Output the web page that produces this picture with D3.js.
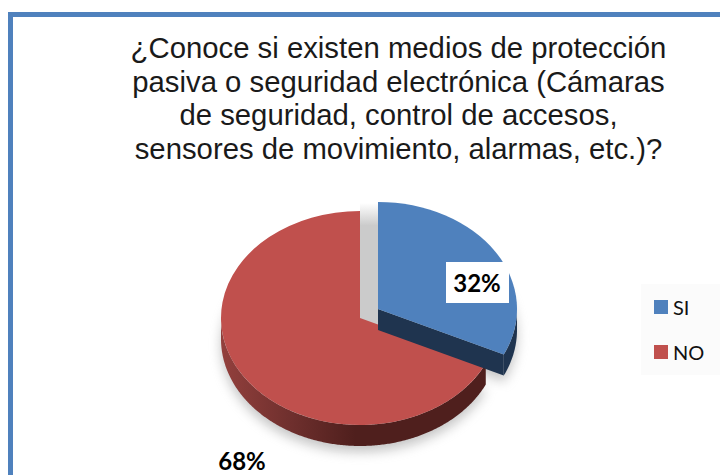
<!DOCTYPE html>
<html><head><meta charset="utf-8">
<script src="https://cdnjs.cloudflare.com/ajax/libs/d3/7.8.5/d3.min.js"></script>
<style>html,body{margin:0;padding:0;background:#fff}svg{display:block}</style>
</head><body><svg id="c" width="720" height="475"></svg>
<script>
const categories = ["SI", "NO"];
const values = [32, 68];
const valueLabels = ["32%", "68%"];
const titleLines = ["¿Conoce si existen medios de protección", "pasiva o seguridad electrónica (Cámaras", "de seguridad, control de accesos,", "sensores de movimiento, alarmas, etc.)?"];
const colors = ["#4f81bd", "#c0504d"];

const svg = d3.select("#c");
const defs = svg.append("defs");
const blur = defs.append("filter").attr("id","blur").attr("x","-20%").attr("y","-20%").attr("width","140%").attr("height","140%");
blur.append("feGaussianBlur").attr("stdDeviation",6);

// frame
svg.append("rect").attr("x",8).attr("y",12).attr("width",712).attr("height",5).attr("fill","#4f81bd");
svg.append("rect").attr("x",8).attr("y",12).attr("width",5).attr("height",463).attr("fill","#4f81bd");

// title
const titleY = d3.scaleLinear().domain([0,3]).range([58,159]);
const title = svg.append("g").attr("font-family","'Liberation Sans',Arial,sans-serif").attr("font-size",29.3).attr("fill","#1a1a1a").attr("text-anchor","middle");
titleLines.forEach((t,i)=>title.append("text").attr("x",398.5).attr("y",titleY(i)).text(t));

// pie
const rx = 139, ry = 107, depth = 21;
const sy = ry / rx;
const origin = {SI:[378,309], NO:[360,318]};
const pie = d3.pie().sort(null).value(d=>d);
const arcs = pie(values);
const arc = d3.arc().innerRadius(0).outerRadius(rx);
const pt = (a,dy)=>[Math.sin(a)*rx, -Math.cos(a)*ry+(dy||0)];
const line = d3.line();

function wallPath(d){
  const a0 = Math.max(d.startAngle, Math.PI/2), a1 = Math.min(d.endAngle, Math.PI*3/2);
  if(a1<=a0) return null;
  const as = d3.range(a0,a1,0.01).concat([a1]);
  return line(as.map(a=>pt(a,0)).concat(as.slice().reverse().map(a=>pt(a,depth))));
}
function cutPath(a){
  return line([[0,0],pt(a,0),pt(a,depth),[0,depth]]);
}

// soft ground shadow
svg.append("g").attr("filter","url(#blur)").attr("opacity",0.5).selectAll("path").data(arcs).join("path")
  .attr("transform",(d,i)=>`translate(${origin[categories[i]][0]},${origin[categories[i]][1]+depth+6}) scale(1,${sy})`)
  .attr("d",arc).attr("fill","#8a8a8a");

// grey gap
const gapG = defs.append("linearGradient").attr("id","gap").attr("x1",0).attr("x2",0).attr("y1",0).attr("y2",1);
[[0,"#ffffff"],[0.18,"#cbcbcb"],[1,"#cbcbcb"]].forEach(s=>gapG.append("stop").attr("offset",s[0]).attr("stop-color",s[1]));
svg.append("rect").attr("x",360).attr("y",203).attr("width",18).attr("height",125).attr("fill","url(#gap)");

// red slice
const rl = defs.append("linearGradient").attr("id","redWallLocal").attr("gradientUnits","userSpaceOnUse").attr("x1",-139).attr("x2",130).attr("y1",0).attr("y2",0);
[[0,"#93403d"],[0.25,"#70302e"],[0.5,"#4f1f1d"],[1,"#4f1f1d"]].forEach(s=>rl.append("stop").attr("offset",s[0]).attr("stop-color",s[1]));
const no = svg.append("g").attr("transform",`translate(${origin.NO})`);
no.append("path").attr("d",wallPath(arcs[1])).attr("fill","url(#redWallLocal)");
no.append("path").attr("transform",`scale(1,${sy})`).attr("d",arc(arcs[1])).attr("fill",colors[1]);

// blue slice
const si = svg.append("g").attr("transform",`translate(${origin.SI})`);
si.append("path").attr("d",cutPath(arcs[0].endAngle)).attr("fill","#1f344f");
si.append("path").attr("d",wallPath(arcs[0])).attr("fill","#1f344f");
si.append("path").attr("transform",`scale(1,${sy})`).attr("d",arc(arcs[0])).attr("fill",colors[0]);

// value labels
svg.append("rect").attr("x",446).attr("y",262).attr("width",63).attr("height",41).attr("fill","#fff");
const lab = svg.append("g").attr("font-family","Lato,sans-serif").attr("font-weight",700).attr("font-size",24).attr("fill","#000").attr("text-anchor","middle");
lab.append("text").attr("x",477).attr("y",292).text(valueLabels[0]);
lab.append("text").attr("x",242).attr("y",470).text(valueLabels[1]);

// legend
svg.append("rect").attr("x",641).attr("y",284).attr("width",79).attr("height",91).attr("fill","#fbfbfb");
const leg = svg.append("g").selectAll("g").data(categories).join("g").attr("transform",(d,i)=>`translate(654,${i?345:300})`);
leg.append("rect").attr("width",14).attr("height",14).attr("fill",(d,i)=>colors[i]);
leg.append("text").attr("x",19).attr("y",14.5).attr("font-family","Lato,sans-serif").attr("font-size",20).attr("fill","#111").text(d=>d);
</script></body></html>
